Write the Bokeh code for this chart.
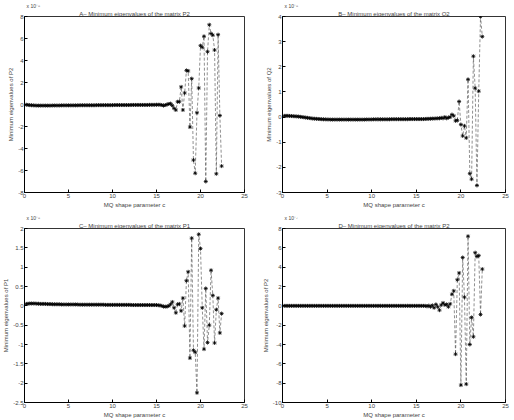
from bokeh.plotting import figure
from bokeh.layouts import gridplot
from bokeh.models import Title, FixedTicker
from bokeh.embed import file_html
from bokeh.resources import INLINE

# MQ shape parameter c (sweep grid)
c = [round(0.2 * k, 1) for k in range(1, 113)]

# Panel A: minimum eigenvalues of P2 (units of 1e-8)
a_vals = [
    -0.02, -0.04, -0.06, -0.07, -0.08, -0.09, -0.1, -0.1, -0.1, -0.1,
    -0.1, -0.1, -0.1, -0.1, -0.1, -0.09, -0.09, -0.09, -0.09, -0.09,
    -0.08, -0.08, -0.08, -0.08, -0.08, -0.08, -0.08, -0.08, -0.08, -0.08,
    -0.07, -0.07, -0.07, -0.07, -0.07, -0.07, -0.07, -0.07, -0.07, -0.07,
    -0.06, -0.06, -0.06, -0.06, -0.06, -0.06, -0.06, -0.06, -0.06, -0.06,
    -0.05, -0.05, -0.05, -0.05, -0.05, -0.05, -0.05, -0.05, -0.05, -0.05,
    -0.04, -0.04, -0.04, -0.04, -0.04, -0.04, -0.04, -0.04, -0.04, -0.04,
    -0.03, -0.03, -0.03, -0.03, -0.02, -0.02, -0.02, -0.05, -0.1,
    -0.05, 0.0, 0.05, 0.08, -0.1, -0.35, -0.5, 0.25, 0.25, 1.6,
    -0.5, 1.05, 3.1, 3.05, -2.05, 2.35, -5.05, -6.25, -0.75, 1.5,
    5.35, 5.2, 6.2, -7.0, 4.8, 7.25, 6.45, 6.3, 4.95, -6.3,
    6.35, -1.0, -5.6,
]

# Panel B: minimum eigenvalues of Q2 (units of 1e-8)
b_vals = [
    0.05, 0.05, 0.05, 0.045, 0.04, 0.035, 0.03, 0.025, 0.02, 0.01,
    0.0, -0.01, -0.02, -0.03, -0.04, -0.05, -0.06, -0.065, -0.07, -0.075,
    -0.08, -0.085, -0.09, -0.09, -0.095, -0.095, -0.1, -0.1, -0.1, -0.1,
    -0.1, -0.1, -0.1, -0.1, -0.1, -0.1, -0.1, -0.1, -0.1, -0.1,
    -0.1, -0.1, -0.1, -0.1, -0.1, -0.1, -0.095, -0.095, -0.095, -0.095,
    -0.09, -0.09, -0.09, -0.09, -0.09, -0.09, -0.09, -0.09, -0.09, -0.09,
    -0.085, -0.085, -0.085, -0.085, -0.085, -0.085, -0.085, -0.085, -0.085, -0.085,
    -0.08, -0.08, -0.08, -0.08, -0.08, -0.08, -0.08, -0.08, -0.08,
    -0.075, -0.07, -0.07, -0.065, -0.06, -0.06, -0.055, -0.05, -0.05, -0.03,
    -0.05, 0.0, -0.05, -0.02, 0.0, 0.1, 0.05, -0.15, -0.13, 0.62,
    -0.3, -0.75, -0.35, -0.83, 1.5, -2.25, -2.47, 2.42, 1.15, -2.72,
    1.03, 4.0, 3.2,
]

# Panel C: minimum eigenvalues of P1 (units of 1e-8)
c_vals = [
    0.05, 0.055, 0.06, 0.06, 0.06, 0.06, 0.055, 0.055, 0.05, 0.05,
    0.05, 0.05, 0.045, 0.045, 0.045, 0.04, 0.04, 0.04, 0.04, 0.04,
    0.035, 0.035, 0.035, 0.035, 0.035, 0.035, 0.035, 0.035, 0.035, 0.035,
    0.03, 0.03, 0.03, 0.03, 0.03, 0.03, 0.03, 0.03, 0.03, 0.03,
    0.03, 0.03, 0.03, 0.03, 0.03, 0.025, 0.025, 0.025, 0.025, 0.025,
    0.025, 0.025, 0.025, 0.025, 0.025, 0.025, 0.025, 0.025, 0.025, 0.025,
    0.02, 0.02, 0.02, 0.02, 0.02, 0.02, 0.02, 0.02, 0.02, 0.02,
    0.02, 0.02, 0.02, 0.02, 0.02, 0.015, 0.01, 0.0, -0.02,
    -0.02, -0.02, 0.0, 0.04, 0.1, -0.05, -0.18, 0.04, 0.05, -0.13,
    0.2, -0.52, 0.65, 0.88, -1.35, 1.75, -1.15, -1.2, -2.25, 1.85,
    1.48, -0.05, -1.12, 0.45, -0.95, -0.5, 0.92, 0.27, -0.96, -0.1,
    0.2, -0.7, -0.2,
]

# Panel D: minimum eigenvalues of P2 (units of 1e-7)
d_vals = [
    0.0, 0.0, 0.0, 0.0, 0.0, 0.0, 0.0, 0.0, 0.0, 0.0,
    0.0, 0.0, 0.0, 0.0, 0.0, 0.0, 0.0, 0.0, 0.0, 0.0,
    0.0, 0.0, 0.0, 0.0, 0.0, 0.0, 0.0, 0.0, 0.0, 0.0,
    0.0, 0.0, 0.0, 0.0, 0.0, 0.0, 0.0, 0.0, 0.0, 0.0,
    0.0, 0.0, 0.0, 0.0, 0.0, 0.0, 0.0, 0.0, 0.0, 0.0,
    0.0, 0.0, 0.0, 0.0, 0.0, 0.0, 0.0, 0.0, 0.0, 0.0,
    0.0, 0.0, 0.0, 0.0, 0.0, 0.0, 0.0, 0.0, 0.0, 0.0,
    0.0, 0.0, 0.0, 0.0, 0.0, 0.0, 0.0, 0.0, 0.0,
    0.0, -0.05, 0.02, -0.1, 0.05, -0.2, 0.15, -0.1, -0.45, 0.1,
    0.3, 0.1, 0.15, -0.1, 0.2, 1.2, 1.55, -5.0, 2.7, 3.4,
    -8.2, 5.0, 0.9, -8.1, 7.2, -4.0, -1.2, -3.2, 5.5, 5.1,
    5.2, -0.9, 3.8,
]

titles = [
    "A\u2013 Minimum eigenvalues of the matrix P2",
    "B\u2013 Minimum eigenvalues of the matrix Q2",
    "C\u2013 Minimum eigenvalues of the matrix P1",
    "D\u2013 Minimum eigenvalues of the matrix P2",
]
ylabels = [
    "Minimum eigenvalues of P2",
    "Minimum eigenvalues of Q2",
    "Minimum eigenvalues of P1",
    "Minimum eigenvalues of P2",
]
xlabel = "MQ shape parameter c"
exponents = ["x 10\u207b\u2078", "x 10\u207b\u2078", "x 10\u207b\u2078", "x 10\u207b\u2077"]
yticks = [
    [-8, -6, -4, -2, 0, 2, 4, 6, 8],
    [-3, -2, -1, 0, 1, 2, 3, 4],
    [-2.5, -2, -1.5, -1, -0.5, 0, 0.5, 1, 1.5, 2],
    [-10, -8, -6, -4, -2, 0, 2, 4, 6, 8],
]
xticks = [0, 5, 10, 15, 20, 25]
series = [a_vals, b_vals, c_vals, d_vals]

FONT = "Liberation Sans"
FS = "6px"
borders = [
    dict(min_border_left=15, min_border_right=13, min_border_top=15, min_border_bottom=13),
    dict(min_border_left=22, min_border_right=9, min_border_top=16, min_border_bottom=13),
    dict(min_border_left=21, min_border_right=11, min_border_top=18, min_border_bottom=15),
    dict(min_border_left=25, min_border_right=7, min_border_top=18, min_border_bottom=13),
]


def make(i):
    yt = yticks[i]
    p = figure(width=257, height=210, output_backend="svg", toolbar_location=None,
               x_range=(0, 25), y_range=(yt[0], yt[-1]), **borders[i])
    # exponent marker sits right above the frame, left-aligned
    p.title.text = exponents[i]
    p.title.align = "left"
    p.title.offset = 2
    p.title.text_font = FONT
    p.title.text_font_size = "5px"
    p.title.text_font_style = "normal"
    p.title.standoff = 0
    p.add_layout(Title(text=titles[i], align="center", text_font=FONT,
                       text_font_size=FS, text_font_style="normal", standoff=0), "above")
    p.xgrid.visible = False
    p.ygrid.visible = False
    p.outline_line_color = "black"
    p.outline_line_width = 0.8
    for ax, lab in ((p.xaxis, xlabel), (p.yaxis, ylabels[i])):
        ax.axis_label = lab
        ax.axis_label_text_font = FONT
        ax.axis_label_text_font_size = FS
        ax.axis_label_text_font_style = "normal"
        ax.axis_label_standoff = 1
        ax.major_label_text_font = FONT
        ax.major_label_text_font_size = FS
        ax.major_label_standoff = 1
        ax.major_tick_in = 3
        ax.major_tick_out = 0
        ax.minor_tick_line_color = None
        ax.axis_line_color = "black"
    p.xaxis.ticker = FixedTicker(ticks=xticks)
    p.yaxis.ticker = FixedTicker(ticks=yt)
    p.yaxis.major_label_overrides = {v: f"{v:g}" for v in yt}
    ys = series[i]
    p.line(c, ys, line_color="#444444", line_width=0.6, line_dash="3 2")
    p.scatter(c, ys, marker="asterisk", size=4, line_color="black", line_width=0.8)
    return p


figs = [make(i) for i in range(4)]
grid = gridplot([[figs[0], figs[1]], [figs[2], figs[3]]], toolbar_location=None)

open("out.html", "w").write(file_html(grid, INLINE))
